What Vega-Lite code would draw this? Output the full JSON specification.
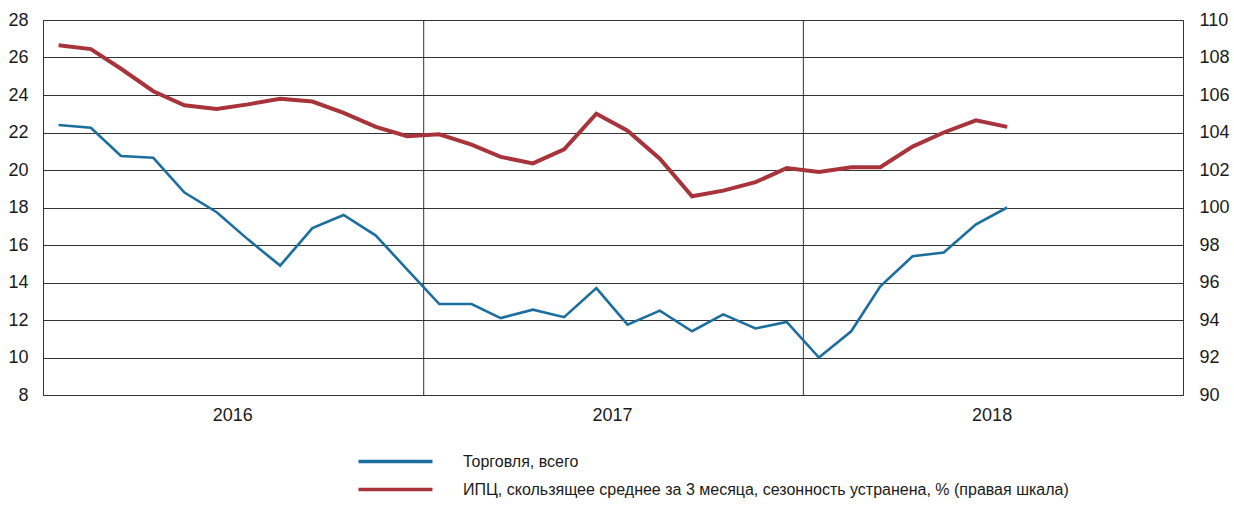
{
  "$schema": "https://vega.github.io/schema/vega-lite/v6.json",
  "width": 1140,
  "height": 375,
  "autosize": {"type": "none"},
  "padding": {"left": 43, "top": 20, "right": 51, "bottom": 110},
  "background": "white",
  "config": {
    "font": "Liberation Sans, Arial, sans-serif",
    "view": {"stroke": "#333333", "strokeWidth": 1},
    "axis": {
      "labelFont": "Liberation Sans, Arial, sans-serif",
      "labelFontSize": 18,
      "labelColor": "#1a1a1a",
      "tickSize": 0,
      "domain": false,
      "title": null
    },
    "legend": {
      "labelFont": "Liberation Sans, Arial, sans-serif"
    }
  },
  "datasets": {
    "series": [
      {"date": "2016-01-16", "series": "Торговля, всего", "value": 22.4},
      {"date": "2016-02-16", "series": "Торговля, всего", "value": 22.25},
      {"date": "2016-03-16", "series": "Торговля, всего", "value": 20.75},
      {"date": "2016-04-16", "series": "Торговля, всего", "value": 20.65},
      {"date": "2016-05-16", "series": "Торговля, всего", "value": 18.8},
      {"date": "2016-06-16", "series": "Торговля, всего", "value": 17.75},
      {"date": "2016-07-16", "series": "Торговля, всего", "value": 16.3},
      {"date": "2016-08-16", "series": "Торговля, всего", "value": 14.9},
      {"date": "2016-09-16", "series": "Торговля, всего", "value": 16.9},
      {"date": "2016-10-16", "series": "Торговля, всего", "value": 17.6},
      {"date": "2016-11-16", "series": "Торговля, всего", "value": 16.5},
      {"date": "2016-12-16", "series": "Торговля, всего", "value": 14.7},
      {"date": "2017-01-16", "series": "Торговля, всего", "value": 12.85},
      {"date": "2017-02-16", "series": "Торговля, всего", "value": 12.85},
      {"date": "2017-03-16", "series": "Торговля, всего", "value": 12.1},
      {"date": "2017-04-16", "series": "Торговля, всего", "value": 12.55},
      {"date": "2017-05-16", "series": "Торговля, всего", "value": 12.15},
      {"date": "2017-06-16", "series": "Торговля, всего", "value": 13.7},
      {"date": "2017-07-16", "series": "Торговля, всего", "value": 11.75},
      {"date": "2017-08-16", "series": "Торговля, всего", "value": 12.5},
      {"date": "2017-09-16", "series": "Торговля, всего", "value": 11.4},
      {"date": "2017-10-16", "series": "Торговля, всего", "value": 12.3},
      {"date": "2017-11-16", "series": "Торговля, всего", "value": 11.55},
      {"date": "2017-12-16", "series": "Торговля, всего", "value": 11.9},
      {"date": "2018-01-16", "series": "Торговля, всего", "value": 10.0},
      {"date": "2018-02-16", "series": "Торговля, всего", "value": 11.4},
      {"date": "2018-03-16", "series": "Торговля, всего", "value": 13.8},
      {"date": "2018-04-16", "series": "Торговля, всего", "value": 15.4},
      {"date": "2018-05-16", "series": "Торговля, всего", "value": 15.6},
      {"date": "2018-06-16", "series": "Торговля, всего", "value": 17.1},
      {"date": "2018-07-16", "series": "Торговля, всего", "value": 18.0},
      {"date": "2016-01-16", "series": "ИПЦ, скользящее среднее за 3 месяца, сезонность устранена, % (правая шкала)", "value": 108.65},
      {"date": "2016-02-16", "series": "ИПЦ, скользящее среднее за 3 месяца, сезонность устранена, % (правая шкала)", "value": 108.45},
      {"date": "2016-03-16", "series": "ИПЦ, скользящее среднее за 3 месяца, сезонность устранена, % (правая шкала)", "value": 107.4},
      {"date": "2016-04-16", "series": "ИПЦ, скользящее среднее за 3 месяца, сезонность устранена, % (правая шкала)", "value": 106.2},
      {"date": "2016-05-16", "series": "ИПЦ, скользящее среднее за 3 месяца, сезонность устранена, % (правая шкала)", "value": 105.45},
      {"date": "2016-06-16", "series": "ИПЦ, скользящее среднее за 3 месяца, сезонность устранена, % (правая шкала)", "value": 105.25},
      {"date": "2016-07-16", "series": "ИПЦ, скользящее среднее за 3 месяца, сезонность устранена, % (правая шкала)", "value": 105.5},
      {"date": "2016-08-16", "series": "ИПЦ, скользящее среднее за 3 месяца, сезонность устранена, % (правая шкала)", "value": 105.8},
      {"date": "2016-09-16", "series": "ИПЦ, скользящее среднее за 3 месяца, сезонность устранена, % (правая шкала)", "value": 105.65},
      {"date": "2016-10-16", "series": "ИПЦ, скользящее среднее за 3 месяца, сезонность устранена, % (правая шкала)", "value": 105.05},
      {"date": "2016-11-16", "series": "ИПЦ, скользящее среднее за 3 месяца, сезонность устранена, % (правая шкала)", "value": 104.3},
      {"date": "2016-12-16", "series": "ИПЦ, скользящее среднее за 3 месяца, сезонность устранена, % (правая шкала)", "value": 103.8},
      {"date": "2017-01-16", "series": "ИПЦ, скользящее среднее за 3 месяца, сезонность устранена, % (правая шкала)", "value": 103.9},
      {"date": "2017-02-16", "series": "ИПЦ, скользящее среднее за 3 месяца, сезонность устранена, % (правая шкала)", "value": 103.35},
      {"date": "2017-03-16", "series": "ИПЦ, скользящее среднее за 3 месяца, сезонность устранена, % (правая шкала)", "value": 102.7},
      {"date": "2017-04-16", "series": "ИПЦ, скользящее среднее за 3 месяца, сезонность устранена, % (правая шкала)", "value": 102.35},
      {"date": "2017-05-16", "series": "ИПЦ, скользящее среднее за 3 месяца, сезонность устранена, % (правая шкала)", "value": 103.1},
      {"date": "2017-06-16", "series": "ИПЦ, скользящее среднее за 3 месяца, сезонность устранена, % (правая шкала)", "value": 105.0},
      {"date": "2017-07-16", "series": "ИПЦ, скользящее среднее за 3 месяца, сезонность устранена, % (правая шкала)", "value": 104.1},
      {"date": "2017-08-16", "series": "ИПЦ, скользящее среднее за 3 месяца, сезонность устранена, % (правая шкала)", "value": 102.6},
      {"date": "2017-09-16", "series": "ИПЦ, скользящее среднее за 3 месяца, сезонность устранена, % (правая шкала)", "value": 100.6},
      {"date": "2017-10-16", "series": "ИПЦ, скользящее среднее за 3 месяца, сезонность устранена, % (правая шкала)", "value": 100.9},
      {"date": "2017-11-16", "series": "ИПЦ, скользящее среднее за 3 месяца, сезонность устранена, % (правая шкала)", "value": 101.35},
      {"date": "2017-12-16", "series": "ИПЦ, скользящее среднее за 3 месяца, сезонность устранена, % (правая шкала)", "value": 102.1},
      {"date": "2018-01-16", "series": "ИПЦ, скользящее среднее за 3 месяца, сезонность устранена, % (правая шкала)", "value": 101.9},
      {"date": "2018-02-16", "series": "ИПЦ, скользящее среднее за 3 месяца, сезонность устранена, % (правая шкала)", "value": 102.15},
      {"date": "2018-03-16", "series": "ИПЦ, скользящее среднее за 3 месяца, сезонность устранена, % (правая шкала)", "value": 102.15},
      {"date": "2018-04-16", "series": "ИПЦ, скользящее среднее за 3 месяца, сезонность устранена, % (правая шкала)", "value": 103.25},
      {"date": "2018-05-16", "series": "ИПЦ, скользящее среднее за 3 месяца, сезонность устранена, % (правая шкала)", "value": 104.0},
      {"date": "2018-06-16", "series": "ИПЦ, скользящее среднее за 3 месяца, сезонность устранена, % (правая шкала)", "value": 104.65},
      {"date": "2018-07-16", "series": "ИПЦ, скользящее среднее за 3 месяца, сезонность устранена, % (правая шкала)", "value": 104.3}
    ],
    "years": [
      {"date": "2017-01-01"},
      {"date": "2018-01-01"}
    ]
  },
  "encoding": {
    "x": {
      "field": "date",
      "type": "temporal",
      "scale": {
        "type": "utc",
        "nice": false,
        "domain": [
          {"year": 2016, "month": 1, "date": 1, "utc": true},
          {"year": 2019, "month": 1, "date": 1, "utc": true}
        ]
      },
      "axis": {
        "values": [
          {"year": 2016, "month": 7, "date": 1, "utc": true},
          {"year": 2017, "month": 7, "date": 1, "utc": true},
          {"year": 2018, "month": 7, "date": 1, "utc": true}
        ],
        "labelExpr": "utcFormat(datum.value, '%Y')",
        "grid": false,
        "labelPadding": 11,
        "labelFontSize": 18
      }
    }
  },
  "layer": [
    {
      "data": {"name": "years"},
      "mark": {"type": "rule", "color": "#333333", "strokeWidth": 1},
      "encoding": {}
    },
    {
      "data": {"name": "series"},
      "transform": [{"filter": "datum.series == 'Торговля, всего'"}],
      "mark": {"type": "line", "strokeWidth": 2.6, "strokeJoin": "miter"},
      "encoding": {
        "y": {
          "field": "value",
          "type": "quantitative",
          "scale": {"domain": [8, 28], "nice": false, "zero": false},
          "axis": {
            "orient": "left",
            "values": [8, 10, 12, 14, 16, 18, 20, 22, 24, 26, 28],
            "grid": true,
            "gridColor": "#333333",
            "gridWidth": 1,
            "gridOpacity": 1,
            "labelPadding": 15
          }
        },
        "color": {
          "field": "series",
          "type": "nominal",
          "scale": {
            "domain": ["Торговля, всего", "ИПЦ, скользящее среднее за 3 месяца, сезонность устранена, % (правая шкала)"],
            "range": ["#1b6e9e", "#a8333a"]
          },
          "legend": {
            "orient": "none",
            "legendX": 343,
            "legendY": 432,
            "direction": "vertical",
            "title": null,
            "symbolType": "M-5,0H5",
            "symbolSize": 219,
            "symbolStrokeWidth": 3.5,
            "labelFontSize": 16,
            "labelColor": "#1a1a1a",
            "labelOffset": 58,
            "labelLimit": 1000,
            "rowPadding": 10,
            "padding": 0
          }
        }
      }
    },
    {
      "data": {"name": "series"},
      "transform": [{"filter": "datum.series != 'Торговля, всего'"}],
      "mark": {"type": "line", "strokeWidth": 4, "strokeJoin": "miter"},
      "encoding": {
        "y": {
          "field": "value",
          "type": "quantitative",
          "scale": {"domain": [90, 110], "nice": false, "zero": false},
          "axis": {
            "orient": "right",
            "values": [90, 92, 94, 96, 98, 100, 102, 104, 106, 108, 110],
            "grid": false,
            "labelPadding": 16
          }
        },
        "color": {"field": "series", "type": "nominal"}
      }
    }
  ],
  "resolve": {"scale": {"y": "independent"}}
}
